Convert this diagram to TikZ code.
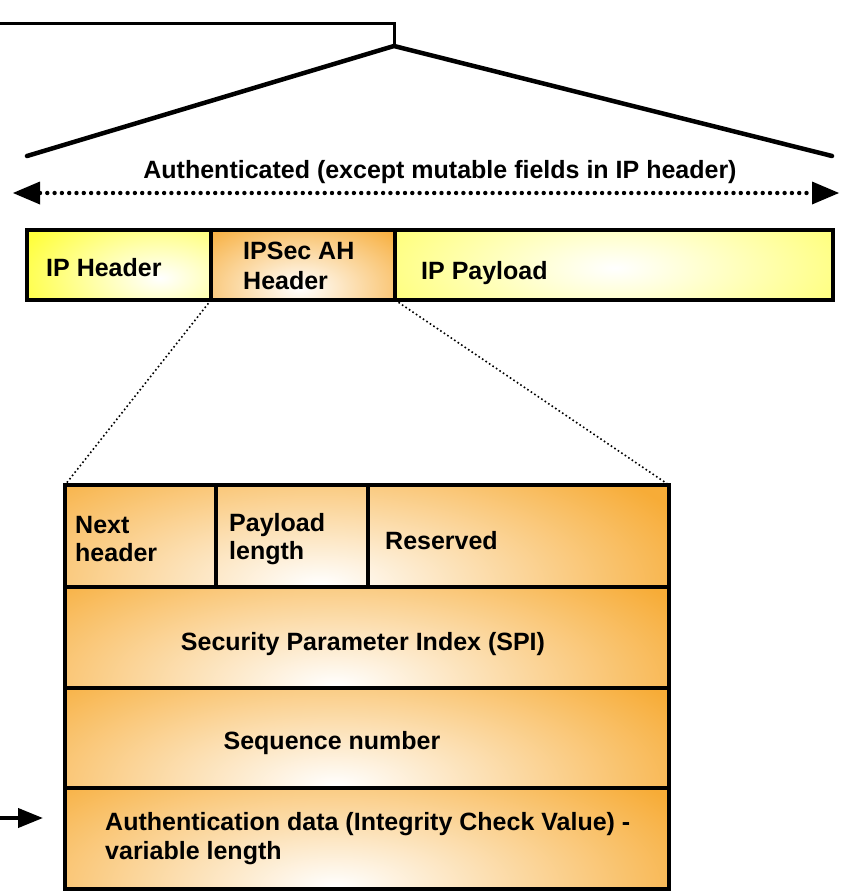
\documentclass[tikz,border=0pt]{standalone}
\usepackage{fontspec}
\setmainfont{Liberation Sans}
\usetikzlibrary{arrows.meta}
\definecolor{org}{RGB}{247,172,55}
\definecolor{ylw}{RGB}{255,255,60}
\newcommand\glowrect[9]{%
  \begin{scope}
    \clip (#1,#2) rectangle (#3,#4);
    \fill[#9] (#1,#2) rectangle (#3,#4);
    \shade[inner color=white, outer color=#9] (#5,#6) ellipse [x radius=#7, y radius=#8];
  \end{scope}}
\begin{document}
\begin{tikzpicture}[x=1pt,y=-1pt,
  lbl/.style={font=\fontsize{25}{30}\selectfont\bfseries, inner sep=0pt},
  frame/.style={draw=black, line width=4pt},
  thin dots/.style={line width=1.6pt, dash pattern=on 1.6pt off 2.6pt},
  heavy dots/.style={line width=4.4pt, dash pattern=on 0pt off 7.3pt, line cap=round}]
\useasboundingbox (0,0) rectangle (846,891);

% top bracket
\coordinate (tl) at (0,24);
\coordinate (tc) at (394,24);
\coordinate (apex) at (394,46);
\coordinate (bl) at (27,156);
\coordinate (br) at (832,156);
\draw[line width=3pt] (tl) -- (tc) -- (apex);
\draw[line width=4.5pt, line cap=round] (bl) -- (apex) -- (br);

% authenticated arrow
\node[lbl] (auth) at (440,172) {Authenticated (except mutable fields in IP header)};
\coordinate (la) at (40,193);
\coordinate (ra) at (812,193);
\draw[heavy dots] (la) -- (ra);
\fill (13,193) -- (40,181.5) -- (40,204.5) -- cycle;
\fill (839,193) -- (812,181.5) -- (812,204.5) -- cycle;

% top packet bar
\glowrect{27}{230}{211}{300}{160}{278}{150}{80}{ylw}
\glowrect{211}{230}{395}{300}{300}{288}{140}{80}{org}
\glowrect{395}{230}{833}{300}{615}{268}{360}{130}{ylw}
\coordinate (ahtl) at (211,230);
\coordinate (ahbl) at (211,300);
\coordinate (ahtr) at (395,230);
\coordinate (ahbr) at (395,300);
\draw[frame] (27,230) rectangle (833,300);
\draw[frame] (ahtl) -- (ahbl);
\draw[frame] (ahtr) -- (ahbr);
\node[lbl, anchor=west] (iph) at (46,268) {IP Header};
\node[lbl, anchor=west, align=left] (ahh) at (243,266) {IPSec AH\\Header};
\node[lbl, anchor=west] (ipp) at (421,273) {IP Payload};

% expanded AH header
\coordinate (bxtl) at (65,485);
\coordinate (bxtr) at (669,485);
\glowrect{65}{485}{669}{587}{320}{585}{400}{160}{org}
\glowrect{65}{587}{669}{688}{335}{686}{400}{160}{org}
\glowrect{65}{688}{669}{788}{335}{786}{400}{160}{org}
\glowrect{65}{788}{669}{889}{335}{887}{400}{160}{org}
\draw[frame] (65,485) rectangle (669,889);
\draw[frame] (65,587) -- (669,587);
\draw[frame] (65,688) -- (669,688);
\draw[frame] (65,788) -- (669,788);
\draw[frame] (216,485) -- (216,587);
\draw[frame] (368,485) -- (368,587);

\draw[thin dots] (ahbl) -- (bxtl);
\draw[thin dots] (ahbr) -- (bxtr);

\node[lbl, anchor=west, align=left, font=\fontsize{25}{28}\selectfont\bfseries] (nh) at (75,539) {Next\\header};
\node[lbl, anchor=west, align=left, font=\fontsize{25}{28}\selectfont\bfseries] (pl) at (229,539) {Payload\\length};
\node[lbl, anchor=west] (rs) at (385,541) {Reserved};
\node[lbl] (spi) at (363,644) {Security Parameter Index (SPI)};
\node[lbl] (seq) at (332,743) {Sequence number};
\node[lbl, anchor=west, align=left, font=\fontsize{25}{29}\selectfont\bfseries] (ad) at (105,839) {Authentication data (Integrity Check Value) -\\variable length};

% left arrow
\coordinate (arrs) at (0,818);
\coordinate (arre) at (43,818);
\draw[line width=4pt, -{Triangle[length=25pt,width=19pt]}] (arrs) -- (arre);
\end{tikzpicture}
\end{document}
